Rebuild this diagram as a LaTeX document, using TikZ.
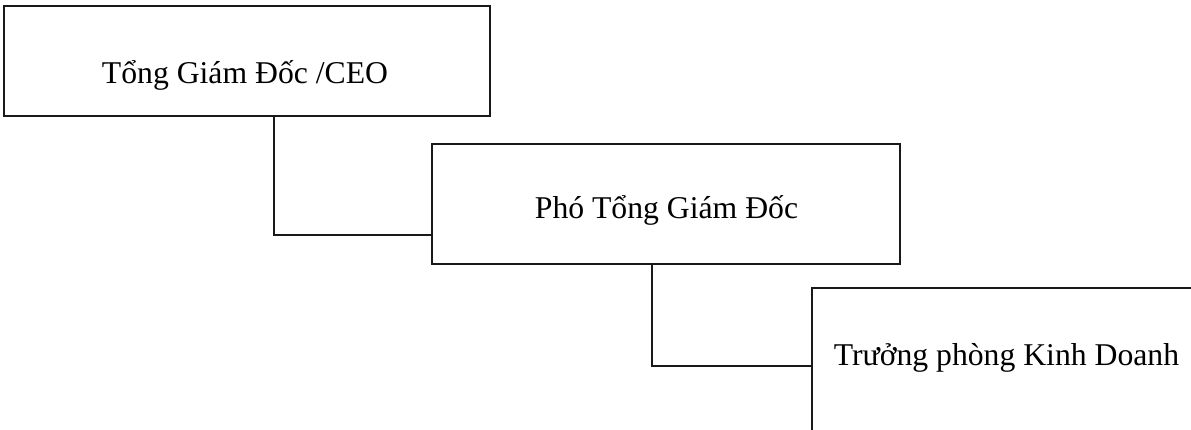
\documentclass[tikz,border=0pt]{standalone}
\usepackage{fontspec}
\setmainfont{Liberation Serif}
\begin{document}
\begin{tikzpicture}[x=1pt,y=-1pt,
  orgbox/.style={draw=black!90, line width=1.8pt, rectangle, inner sep=0pt, fill=white},
  orgtext/.style={anchor=base, inner sep=0pt, font=\fontsize{31.7}{36}\selectfont},
  link/.style={draw=black!90, line width=1.8pt}]
\useasboundingbox (0,0) rectangle (1191,430);
\clip (0,0) rectangle (1191,430);
\fill[white] (0,0) rectangle (1191,430);
\node[orgbox, minimum width=486pt, minimum height=110pt] (b1) at (247,61) {};
\node[orgbox, minimum width=468pt, minimum height=120pt] (b2) at (666,204) {};
\node[orgbox, minimum width=389pt, minimum height=156pt] (b3) at (1006.5,366) {};
\node[orgtext] (t1) at (245,84) {Tổng Giám Đốc /CEO};
\node[orgtext] (t2) at (666.5,219) {Phó Tổng Giám Đốc};
\node[orgtext] (t3) at (1006.5,365) {Trưởng phòng Kinh Doanh};
\draw[link] (b1.south -| 274,0) |- ([yshift=-31pt]b2.west);
\draw[link] (b2.south -| 652,0) |- (b3.west);
\end{tikzpicture}
\end{document}
